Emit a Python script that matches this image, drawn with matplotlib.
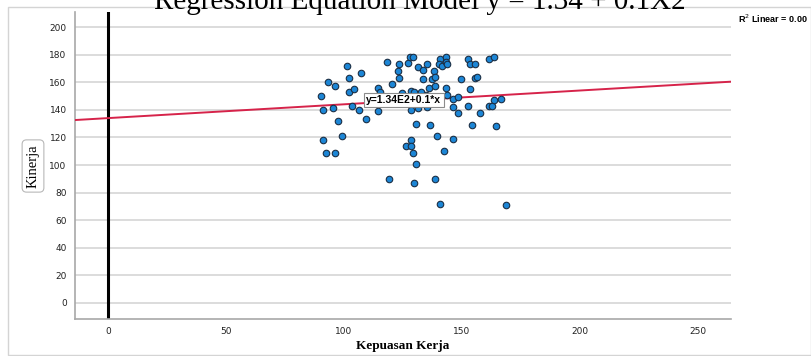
import matplotlib
matplotlib.use("Agg")
import matplotlib.pyplot as plt
from matplotlib.patches import Rectangle

# Kepuasan Kerja (x) vs Kinerja (y)
kepuasan = [90.3, 91.1, 93.2, 95.2, 96.3, 97.3, 91.1, 92.2, 96.2, 99.2,
            101.3, 102.2, 102.1, 104.2, 103.3, 106.2, 107.2, 109.3, 114.3, 115.1,
            114.3, 118.2, 119.2, 120.3, 123.3, 123.0, 123.4, 124.6, 127.2, 128.0,
            129.4, 128.4, 129.5, 131.2, 133.3, 135.3, 133.3, 132.5, 134.7, 136.1,
            137.3, 138.3, 138.7, 138.4, 128.3, 131.5, 135.3, 130.4, 136.3, 128.4,
            126.3, 128.4, 129.4, 130.4, 129.5, 138.4, 139.3, 142.4, 140.6, 143.2,
            140.4, 141.4, 143.2, 143.5, 143.2, 146.3, 148.4, 146.3, 148.4, 146.3,
            149.4, 152.4, 153.3, 155.5, 153.4, 152.4, 155.5, 156.5, 154.4, 157.6,
            161.4, 163.4, 161.6, 162.6, 163.4, 166.5, 164.5, 140.5, 168.5, 143.5]
kinerja = [150, 140, 160, 141, 157, 132, 118, 109, 109, 121,
           172, 163, 153, 155, 143, 140, 167, 133, 156, 153,
           139, 175, 90, 159, 173, 168, 163, 152, 174, 178,
           178, 154, 153, 171, 169, 173, 162, 153, 151, 156,
           162, 168, 157, 164, 140, 141, 142, 130, 129, 118,
           114, 114, 109, 101, 87, 90, 121, 110, 177, 178,
           173, 172, 175, 173, 156, 142, 138, 148, 149, 119,
           162, 177, 173, 173, 155, 143, 163, 164, 129, 138,
           177, 178, 143, 143, 147, 148, 128, 72, 71, 151]

# fitted linear model
intercept = 134.0
slope = 0.1
fit_x = [-14, 264]
equation = "y=1.34E2+0.1*x"
r2_text = "R$^2$ Linear = 0.00"

x_ticks = [0, 50, 100, 150, 200, 250]
y_ticks = [0, 20, 40, 60, 80, 100, 120, 140, 160, 180, 200]

W, H = 812, 356
fig = plt.figure(figsize=(W / 100, H / 100), dpi=100)
fig.patch.set_facecolor("white")

# outer chart frame
fig.add_artist(Rectangle((8 / W, 0.002), (W - 9) / W, (H - 7) / H - 0.002,
                         transform=fig.transFigure, fill=False,
                         edgecolor="#d4d4d4", linewidth=1.0))

ax = fig.add_axes([75 / W, (H - 319) / H, (731 - 75) / W, (319 - 12) / H])
ax.set_xlim(-14, 264)
ax.set_ylim(-11.6, 210.9)

for side in ("top", "right"):
    ax.spines[side].set_visible(False)
for side in ("left", "bottom"):
    ax.spines[side].set_color("#a8a8a8")
    ax.spines[side].set_linewidth(1.2)

ax.set_yticks(y_ticks)
ax.set_xticks(x_ticks)
ax.tick_params(axis="both", length=0, labelsize=6.5, colors="#222222", pad=6)
ax.grid(axis="y", color="#d9d9d9", linewidth=1.3)
ax.set_axisbelow(True)

# reference line at x = 0
ax.axvline(0, color="black", linewidth=2.2, zorder=2)

# regression line
fit_y = [intercept + slope * v for v in fit_x]
ax.plot(fit_x, fit_y, color="#d6234a", linewidth=1.4, zorder=3)

ax.scatter(kepuasan, kinerja, s=22, color="#1c86d6", edgecolor="#1b2f45",
           linewidth=0.8, zorder=4)

ax.text(125.4, 147, equation, ha="center", va="center", fontsize=7.5,
        fontweight="bold", family="Liberation Sans", zorder=5,
        bbox=dict(boxstyle="square,pad=0.2", facecolor="white",
                  edgecolor="#8c8c8c", linewidth=0.8))

fig.text(773 / W, 1 - 19 / H, r2_text, ha="center", va="center",
         fontsize=6.5, fontweight="bold", family="Liberation Sans")

fig.text(33 / W, 1 - 166 / H, "Kinerja", rotation=90, ha="center", va="center",
         fontsize=10.5, family="Liberation Serif",
         bbox=dict(boxstyle="round,pad=0.3,rounding_size=0.3",
                   facecolor="white", edgecolor="#b8b8b8", linewidth=0.8))

fig.text(403 / W, 1 - 346 / H, "Kepuasan Kerja", ha="center", va="center",
         fontsize=9.5, fontweight="bold", family="Liberation Serif")

fig.text(420 / W, 1 - 9 / H, "Regression Equation Model y = 1.34 + 0.1X2",
         ha="center", va="baseline", fontsize=21, family="Liberation Serif")

fig.savefig("out.png", dpi=100, facecolor="white")
